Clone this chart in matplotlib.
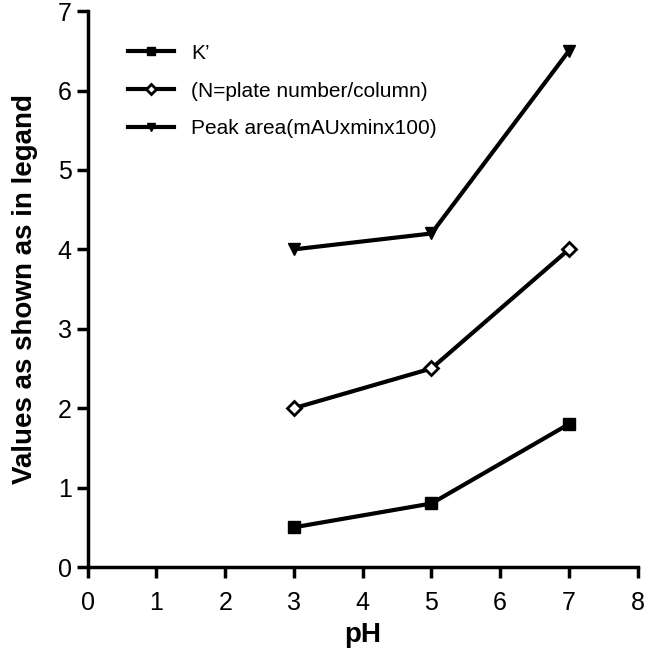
import matplotlib.pyplot as plt

plt.rcParams['font.family'] = ['Liberation Sans', 'DejaVu Sans']

ph = [3, 5, 7]
k_prime = [0.5, 0.8, 1.8]
plate_number = [2.0, 2.5, 4.0]
peak_area = [4.0, 4.2, 6.5]

labels = ["K\u2019", "(N=plate number/column)", "Peak area(mAUxminx100)"]


def main():
    fig = plt.figure(figsize=(6.5, 6.54), dpi=100)
    ax = fig.add_axes([0.135, 0.133, 0.846, 0.85])

    ax.plot(ph, k_prime, color='black', lw=3, marker='s', ms=8, label=labels[0])
    ax.plot(ph, plate_number, color='black', lw=3, marker='D', ms=7,
            mfc='white', mew=2, label=labels[1])
    ax.plot(ph, peak_area, color='black', lw=3, marker='v', ms=8, label=labels[2])

    ax.set_xlim(0, 8)
    ax.set_ylim(0, 7)
    ax.set_xticks(range(0, 9))
    ax.set_yticks(range(0, 8))

    for side in ['top', 'right']:
        ax.spines[side].set_visible(False)
    for side in ['left', 'bottom']:
        ax.spines[side].set_linewidth(2.5)
    ax.tick_params(width=2.5, length=8, labelsize=18)
    ax.tick_params(axis='x', pad=9)

    ax.set_xlabel('pH', fontsize=20, fontweight='bold', labelpad=5)
    ax.set_ylabel('Values as shown as in legand', fontsize=20, fontweight='bold',
                  labelpad=14)

    ax.legend(loc='upper left', bbox_to_anchor=(0.04, 0.975), frameon=False,
              fontsize=15, handlelength=2.2, labelspacing=0.9, markerscale=0.8)

    fig.savefig('out.png', dpi=100)


if __name__ == "__main__":
    main()
